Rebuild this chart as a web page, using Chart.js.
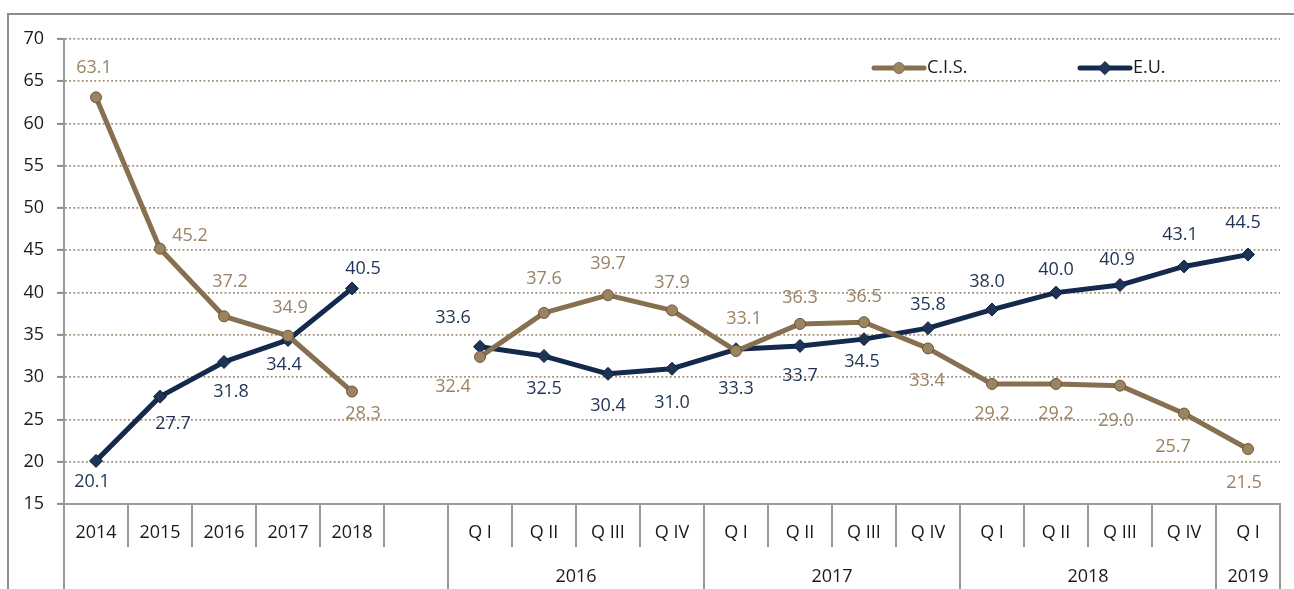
<!DOCTYPE html>
<html>
<head>
<meta charset="utf-8">
<script src="https://cdn.jsdelivr.net/npm/chart.js@4.4.1/dist/chart.umd.min.js"></script>
<style>
html,body{margin:0;padding:0;background:#fff;overflow:hidden;}
#wrap{width:1294px;height:589px;position:relative;}
canvas{display:block;}
</style>
</head>
<body>
<div id="wrap"><canvas id="c" width="1294" height="589" style="width:1294px;height:589px"></canvas></div>
<script>
// ---------- data ----------
const categories = ['2014','2015','2016','2017','2018','','Q I','Q II','Q III','Q IV','Q I','Q II','Q III','Q IV','Q I','Q II','Q III','Q IV','Q I'];
const groupLabels = ['2016','2017','2018','2019'];
const groupStart = [6,10,14,18];
const groupEnd = [9,13,17,18];
const cisValues = [63.1,45.2,37.2,34.9,28.3,null,32.4,37.6,39.7,37.9,33.1,36.3,36.5,33.4,29.2,29.2,29.0,25.7,21.5];
const euValues  = [20.1,27.7,31.8,34.4,40.5,null,33.6,32.5,30.4,31.0,33.3,33.7,34.5,35.8,38.0,40.0,40.9,43.1,44.5];
const seriesNames = ['C.I.S.','E.U.'];
const yMin = 15, yMax = 70, yStep = 5;

// label offsets (text centre relative to point), styling only
const cisLabelOffsets = [[-2,-29],[30,-13],[6,-34],[2,-28],[11,22],[0,0],[-27,30],[0,-34],[0,-31],[0,-28],[8,-32],[0,-26],[0,-25],[-1,32],[0,30],[0,30],[-4,35],[-11,33],[-4,34]];
const euLabelOffsets  = [[-4,21],[13,27],[7,30],[-4,25],[11,-20],[0,0],[-27,-29],[0,33],[0,32],[0,34],[0,40],[0,30],[-2,23],[0,-23],[-5,-28],[0,-23],[-3,-25],[-4,-32],[-5,-32]];

const FONT = '"Open Sans", "Noto Sans", sans-serif';
const cisColor = '#86704f', cisLabel = '#9a8264';
const euColor = '#142a4c', euLabel = '#1f3354';

const frame = {
  id: 'frame',
  beforeDraw(chart) {
    const ctx = chart.ctx;
    ctx.save();
    ctx.strokeStyle = '#8c8c8c';
    ctx.lineWidth = 2;
    ctx.beginPath();
    ctx.moveTo(8, chart.height);
    ctx.lineTo(8, 14);
    ctx.lineTo(chart.width, 14);
    ctx.stroke();
    ctx.restore();
  }
};

const xLabels = {
  id: 'xLabels',
  afterDraw(chart) {
    const ctx = chart.ctx, xs = chart.scales.x;
    const n = categories.length;
    const w = (xs.right - xs.left) / n;
    const longSet = new Set([0, n, ...groupStart, ...groupEnd.map(e => e + 1)]);
    ctx.save();
    ctx.strokeStyle = '#9a9a9a';
    ctx.lineWidth = 2;
    for (let b = 0; b <= n; b++) {
      const x = Math.round(xs.left + b * w);
      ctx.beginPath();
      ctx.moveTo(x, xs.top);
      ctx.lineTo(x, longSet.has(b) ? chart.height : xs.top + 43);
      ctx.stroke();
    }
    ctx.fillStyle = '#1a1a1a';
    ctx.font = '18px ' + FONT;
    ctx.textAlign = 'center';
    ctx.textBaseline = 'middle';
    categories.forEach((c, i) => {
      ctx.fillText(c, xs.getPixelForValue(i), xs.top + 29);
    });
    groupLabels.forEach((g, k) => {
      const x = (xs.getPixelForValue(groupStart[k]) + xs.getPixelForValue(groupEnd[k])) / 2;
      ctx.fillText(g, x, xs.top + 73);
    });
    ctx.restore();
  }
};

const dataLabels = {
  id: 'dataLabels',
  afterDatasetsDraw(chart) {
    const ctx = chart.ctx;
    const offs = [cisLabelOffsets, euLabelOffsets];
    const cols = [cisLabel, euLabel];
    ctx.save();
    ctx.font = '18px ' + FONT;
    ctx.textAlign = 'center';
    ctx.textBaseline = 'middle';
    chart.data.datasets.forEach((ds, di) => {
      const meta = chart.getDatasetMeta(di);
      ctx.fillStyle = cols[di];
      ds.data.forEach((v, i) => {
        if (v === null) return;
        const el = meta.data[i];
        ctx.fillText(v.toFixed(1), el.x + offs[di][i][0], el.y + offs[di][i][1]);
      });
    });
    ctx.restore();
  }
};

const customLegend = {
  id: 'customLegend',
  afterDraw(chart) {
    const ctx = chart.ctx;
    const items = [
      {x: 872, color: cisColor, style: 'circle', bg: '#9c8462', name: seriesNames[0]},
      {x: 1078, color: euColor, style: 'rectRot', bg: '#1d3457', name: seriesNames[1]}
    ];
    const y = 68;
    ctx.save();
    items.forEach(it => {
      ctx.strokeStyle = it.color;
      ctx.lineWidth = 5;
      ctx.lineCap = 'round';
      ctx.beginPath();
      ctx.moveTo(it.x + 2, y);
      ctx.lineTo(it.x + 52, y);
      ctx.stroke();
      ctx.fillStyle = it.bg;
      ctx.strokeStyle = it.color;
      ctx.lineWidth = 1;
      Chart.helpers.drawPoint(ctx, {pointStyle: it.style, radius: it.style === 'circle' ? 5.5 : 6.5, borderWidth: 1}, it.x + 27, y);
      ctx.fillStyle = '#1a1a1a';
      ctx.font = '18px ' + FONT;
      ctx.textAlign = 'left';
      ctx.textBaseline = 'middle';
      ctx.fillText(it.name, it.x + 55, y);
    });
    ctx.restore();
  }
};

new Chart(document.getElementById('c'), {
  type: 'line',
  data: {
    labels: categories,
    datasets: [
      {
        label: seriesNames[0], data: cisValues,
        borderColor: cisColor, borderWidth: 5, borderJoinStyle: 'round',
        pointStyle: 'circle', pointRadius: 5.5, pointBackgroundColor: '#9c8462',
        pointBorderColor: '#6b5638', pointBorderWidth: 1, tension: 0, spanGaps: false
      },
      {
        label: seriesNames[1], data: euValues,
        borderColor: euColor, borderWidth: 5, borderJoinStyle: 'round',
        pointStyle: 'rectRot', pointRadius: 6.5, pointBackgroundColor: '#1d3457',
        pointBorderColor: '#0f1f3a', pointBorderWidth: 1, tension: 0, spanGaps: false
      }
    ]
  },
  options: {
    responsive: false,
    animation: false,
    devicePixelRatio: 1,
    layout: {padding: {left: 0, right: 14, top: 39, bottom: 0}},
    plugins: {legend: {display: false}, tooltip: {enabled: false}},
    scales: {
      x: {
        type: 'category',
        offset: true,
        grid: {display: false},
        border: {display: true, color: '#9a9a9a', width: 2},
        ticks: {display: false},
        afterFit(s) { s.height = 85; }
      },
      y: {
        min: yMin, max: yMax,
        ticks: {stepSize: yStep, padding: 13, color: '#1a1a1a', font: {family: FONT, size: 18}},
        grid: {
          color: '#a08c74', lineWidth: 1.8,
          tickLength: 7, tickColor: '#8c8c8c', tickWidth: 2, tickBorderDash: []
        },
        border: {display: true, color: '#9a9a9a', width: 2, dash: [1.8, 2.4]},
        afterFit(s) { s.width = 64; }
      }
    }
  },
  plugins: [frame, xLabels, dataLabels, customLegend]
});
</script>
</body>
</html>
